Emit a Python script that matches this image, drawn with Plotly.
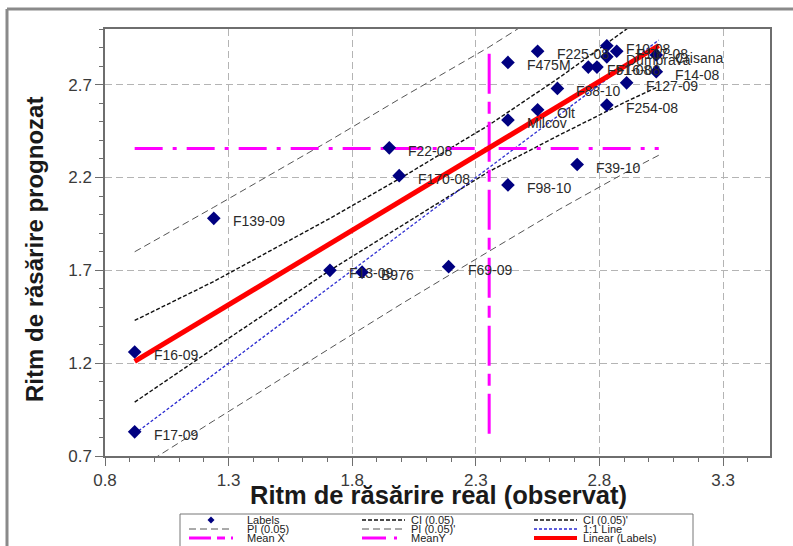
import plotly.graph_objects as go

# ---------------- data ----------------
obs_x = [1.24, 1.71, 1.84, 0.92, 0.92, 2.19, 1.95, 1.99, 2.43, 2.71, 2.55, 2.43,
         2.83, 2.87, 2.83, 3.03, 3.03, 2.755, 2.79, 2.91, 2.63, 2.83, 2.55, 2.43]
pred_y = [1.98, 1.70, 1.69, 1.26, 0.83, 1.72, 2.36, 2.21, 2.16, 2.27, 2.88, 2.82,
          2.91, 2.88, 2.85, 2.86, 2.77, 2.795, 2.795, 2.71, 2.68, 2.59, 2.565, 2.51]
labels = ["F139-09", "F13-09", "B976", "F16-09", "F17-09", "F69-09", "F22-08", "F170-08",
          "F98-10", "F39-10", "F225-08", "F475M", "F10-08", "F107-08", "Dumbrava", "Crisana",
          "F14-08", "F51-08", "F16-08", "F127-09", "F88-10", "F254-08", "Olt", "Milcov"]

band_x = [0.92, 1.24, 1.71, 2.00, 2.35, 2.64, 2.91, 3.04]
ci_lo = [0.99, 1.28, 1.70, 1.94, 2.23, 2.43, 2.61, 2.69]
ci_hi = [1.43, 1.64, 1.98, 2.20, 2.48, 2.74, 3.00, 3.12]
pi_lo = [0.62, 0.89, 1.28, 1.52, 1.80, 2.03, 2.23, 2.32]
pi_hi = [1.80, 2.04, 2.40, 2.63, 2.90, 3.14, 3.36, 3.48]

fit_x = [0.92, 3.04]
fit_y = [1.21, 2.91]
one_x = [0.92, 3.04]
one_y = [0.82, 2.94]

mean_x = 2.354
mean_y = 2.356
meanx_span = [0.82, 2.87]
meany_span = [0.92, 3.04]

x_ticks = [0.8, 1.3, 1.8, 2.3, 2.8, 3.3]
y_ticks = [0.7, 1.2, 1.7, 2.2, 2.7]

legend_items = [
    ["Labels", "CI (0.05)", "CI (0.05)'"],
    ["PI (0.05)", "PI (0.05)'", "1:1 Line"],
    ["Mean X", "MeanY", "Linear (Labels)"],
]

# ---------------- layout geometry ----------------
W, H = 793, 546
ML, MR, MT, MB = 105, 23, 29, 90
PW, PH = W - ML - MR, H - MT - MB
FONT = "Liberation Sans, Arial, sans-serif"


def P(px, py):
    return (px - ML) / PW, (H - MB - py) / PH


fig = go.Figure()

CI_STYLE = dict(color="#111111", width=1.4, dash="4px,2px")
PI_STYLE = dict(color="#555555", width=1, dash="7px,4px")
ONE_STYLE = dict(color="#2a2ad0", width=1.3, dash="3px,2px")
MX_STYLE = dict(color="#ff00ff", width=3, dash="40px,8px,12px,8px")
MY_STYLE = dict(color="#ff00ff", width=3, dash="28px,10px,4px,10px")
FIT_STYLE = dict(color="#ff0000", width=5)

fig.add_trace(go.Scatter(x=band_x, y=pi_hi, mode="lines", line=PI_STYLE, hoverinfo="skip"))
fig.add_trace(go.Scatter(x=band_x, y=pi_lo, mode="lines", line=PI_STYLE, hoverinfo="skip"))
fig.add_trace(go.Scatter(x=band_x, y=ci_hi, mode="lines", line=CI_STYLE, hoverinfo="skip"))
fig.add_trace(go.Scatter(x=band_x, y=ci_lo, mode="lines", line=CI_STYLE, hoverinfo="skip"))
fig.add_trace(go.Scatter(x=one_x, y=one_y, mode="lines", line=ONE_STYLE, hoverinfo="skip"))
fig.add_trace(go.Scatter(x=[mean_x, mean_x], y=meanx_span, mode="lines", line=MX_STYLE, hoverinfo="skip"))
fig.add_trace(go.Scatter(x=meany_span, y=[mean_y, mean_y], mode="lines", line=MY_STYLE, hoverinfo="skip"))
fig.add_trace(go.Scatter(x=fit_x, y=fit_y, mode="lines", line=FIT_STYLE, hoverinfo="skip"))
fig.add_trace(go.Scatter(x=obs_x, y=pred_y, mode="markers",
                         marker=dict(symbol="diamond", size=10.5, color="#000080",
                                     line=dict(width=0)),
                         text=labels, hoverinfo="text"))

annotations = []
for xv, yv, lab in zip(obs_x, pred_y, labels):
    annotations.append(dict(x=xv, y=yv, xref="x", yref="y", text=lab, showarrow=False,
                            xanchor="left", yanchor="middle", xshift=17, yshift=-3,
                            font=dict(family=FONT, size=14, color="#2a2a2a")))

# axis titles
tx, ty = P(438, 495)
annotations.append(dict(x=tx, y=ty, xref="paper", yref="paper", showarrow=False,
                        text="<b>Ritm de răsărire real (observat)</b>",
                        xanchor="center", yanchor="middle",
                        font=dict(family=FONT, size=25.5, color="#1a1a1a")))
tx, ty = P(34, 250)
annotations.append(dict(x=tx, y=ty, xref="paper", yref="paper", showarrow=False,
                        text="<b>Ritm de răsărire prognozat</b>", textangle=-90,
                        xanchor="center", yanchor="middle",
                        font=dict(family=FONT, size=24, color="#1a1a1a")))

shapes = []
# outer frame (left + top)
x0, y0 = P(7, 9)
x1, _ = P(800, 9)
_, y1 = P(7, 560)
shapes.append(dict(type="line", xref="paper", yref="paper", x0=x0, y0=y0, x1=x1, y1=y0,
                   line=dict(color="#8a8a8a", width=3)))
shapes.append(dict(type="line", xref="paper", yref="paper", x0=x0, y0=y0, x1=x0, y1=y1,
                   line=dict(color="#8a8a8a", width=3)))

# legend box
bx0, by0 = P(180, 514)
bx1, by1 = P(693, 570)
shapes.append(dict(type="rect", xref="paper", yref="paper", x0=bx0, y0=by0, x1=bx1, y1=by1,
                   fillcolor="white", line=dict(color="#777777", width=1)))

row_y = [520, 529, 538]
col_line = [(189, 233), (362, 405), (534, 577)]
col_text = [245, 409, 581]
leg_styles = [
    ["diamond", CI_STYLE, CI_STYLE],
    [PI_STYLE, PI_STYLE, ONE_STYLE],
    [dict(color="#ff00ff", width=3, dash="22px,6px,8px,6px"),
     dict(color="#ff00ff", width=3, dash="24px,8px,3px,8px"),
     dict(color="#ff0000", width=4)],
]
for r in range(3):
    for c in range(3):
        st = leg_styles[r][c]
        lx0, ly = P(col_line[c][0], row_y[r])
        lx1, _ = P(col_line[c][1], row_y[r])
        if st == "diamond":
            cx = (col_line[c][0] + col_line[c][1]) / 2
            cy = row_y[r]
            pts = [P(cx, cy - 3.5), P(cx + 3.5, cy), P(cx, cy + 3.5), P(cx - 3.5, cy)]
            path = "M " + " L ".join(f"{a:.5f},{b:.5f}" for a, b in pts) + " Z"
            shapes.append(dict(type="path", xref="paper", yref="paper", path=path,
                               fillcolor="#000080", line=dict(width=0)))
        else:
            shapes.append(dict(type="line", xref="paper", yref="paper", x0=lx0, y0=ly,
                               x1=lx1, y1=ly, line=st))
        tx, ty = P(col_text[c], row_y[r])
        annotations.append(dict(x=tx, y=ty, xref="paper", yref="paper", showarrow=False,
                                text=legend_items[r][c], xanchor="left", yanchor="middle",
                                font=dict(family=FONT, size=11, color="#222222")))

axis_common = dict(
    showline=True, linecolor="#6e6e6e", linewidth=1.5, mirror=True,
    ticks="outside", ticklen=8, tickcolor="#6e6e6e", tickwidth=1,
    showgrid=True, gridcolor="#b4b4b4", gridwidth=1, griddash="7px,4px",
    zeroline=False, tickformat=".1f",
    tickfont=dict(family=FONT, size=17, color="#3a3a3a"),
    minor=dict(ticks="outside", ticklen=4, tickcolor="#6e6e6e", dtick=0.1, showgrid=False),
)

fig.update_layout(
    width=W, height=H,
    margin=dict(l=ML, r=MR, t=MT, b=MB, pad=0),
    paper_bgcolor="white", plot_bgcolor="white",
    showlegend=False,
    xaxis=dict(range=[0.8, 3.49], tickmode="array", tickvals=x_ticks, **axis_common),
    yaxis=dict(range=[0.7, 3.0], tickmode="array", tickvals=y_ticks, **axis_common),
    annotations=annotations,
    shapes=shapes,
)
fig.update_xaxes(minor=dict(tick0=0.8))
fig.update_yaxes(minor=dict(tick0=0.7))

fig.write_html("out.html", config={"displayModeBar": False},
               post_script="document.body.style.margin='0';document.body.style.overflow='hidden';")
